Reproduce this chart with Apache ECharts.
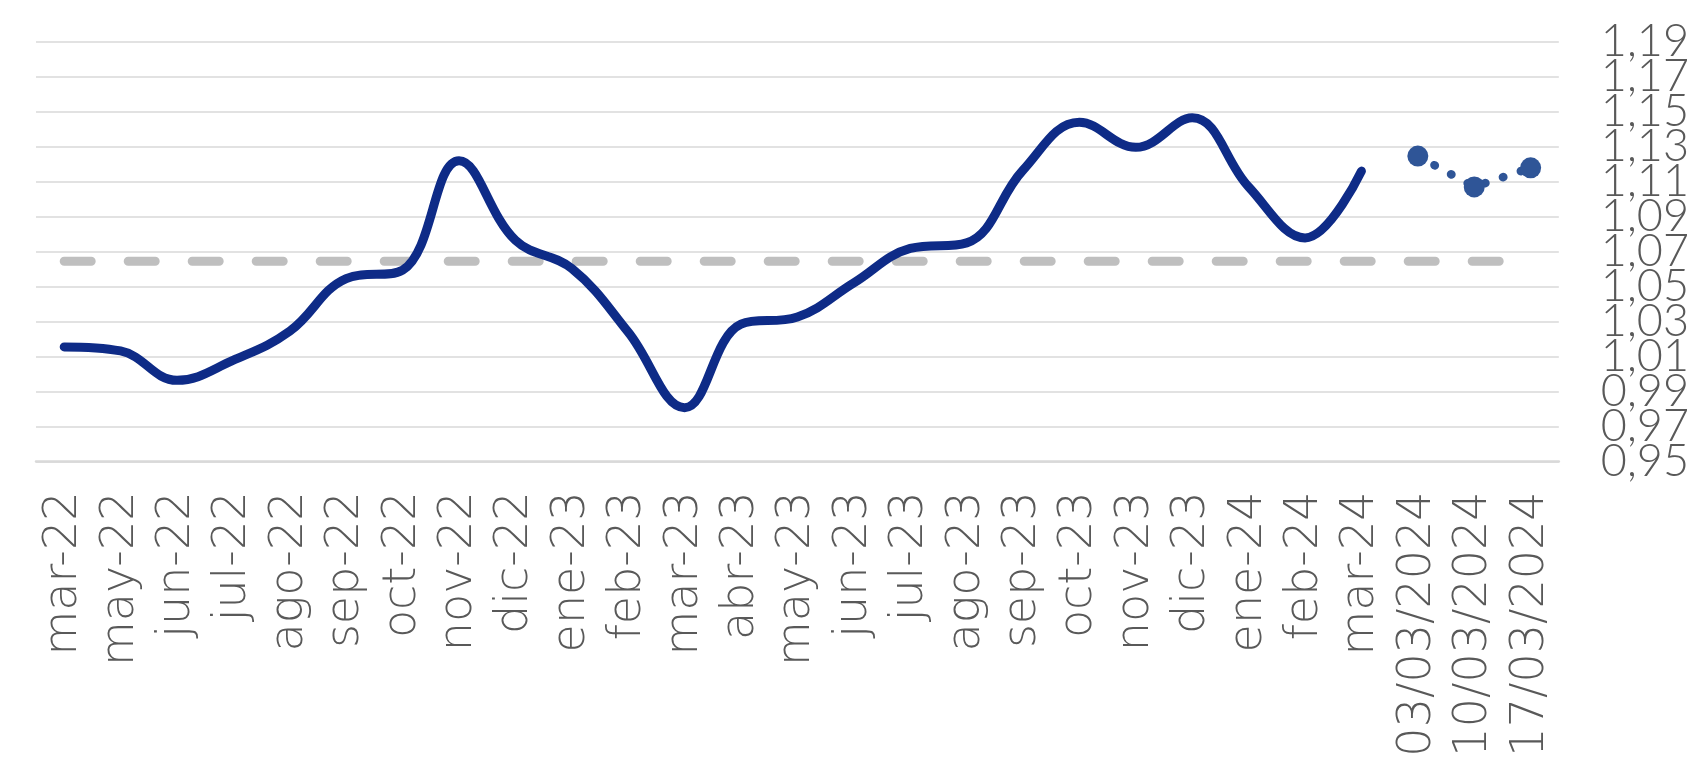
<!DOCTYPE html>
<html>
<head>
<meta charset="utf-8">
<script src="https://cdn.jsdelivr.net/npm/echarts@6/dist/echarts.min.js"></script>
<style>
  html, body { margin: 0; padding: 0; background: #ffffff; }
  #chart { width: 1692px; height: 770px; }
</style>
</head>
<body>
<div id="chart"></div>
<script>
const categories = ['mar-22','may-22','jun-22','jul-22','ago-22','sep-22','oct-22','nov-22','dic-22','ene-23','feb-23','mar-23','abr-23','may-23','jun-23','jul-23','ago-23','sep-23','oct-23','nov-23','dic-23','ene-24','feb-24','mar-24','03/03/2024','10/03/2024','17/03/2024'];
const monthlyValues = [1.0155,1.0132,0.9964,1.0079,1.0245,1.0546,1.0594,1.1219,1.0765,1.0603,1.0240,0.9808,1.0285,1.0326,1.0521,1.0718,1.0750,1.1166,1.1439,1.1296,1.1465,1.1070,1.0778,1.1160];
const weeklyValues = [1.1246,1.1070,1.1179];
const referenceValue = 1.0645;
const yTickValues = [0.95,0.97,0.99,1.01,1.03,1.05,1.07,1.09,1.11,1.13,1.15,1.17,1.19];
const yStep = 0.02;

const monthlySeries = categories.map((c, i) => i < monthlyValues.length ? monthlyValues[i] : null);
const weeklySeries = categories.map((c, i) => {
  const k = i - monthlyValues.length;
  return k >= 0 ? weeklyValues[k] : null;
});
const referenceSeries = categories.map(() => referenceValue);
const yMin = yTickValues[0];
const yMax = yTickValues[yTickValues.length - 1];
const evenTicks = yTickValues.filter((v, i) => i % 2 === 0);
const oddTicks = yTickValues.filter((v, i) => i % 2 === 1);

const labelStyle = {
  margin: 42,
  align: 'left',
  color: '#595959',
  fontFamily: 'Lato',
  fontWeight: 300,
  fontSize: 45,
  showMinLabel: true,
  showMaxLabel: true,
  formatter: v => v.toFixed(2).replace('.', ',')
};
function labelAxis(values) {
  return {
    type: 'value',
    position: 'right',
    min: yMin,
    max: yMax,
    axisLine: { show: false },
    axisTick: { show: false },
    splitLine: { show: false },
    axisLabel: Object.assign({ customValues: values }, labelStyle)
  };
}

const chart = echarts.init(document.getElementById('chart'), null, { renderer: 'canvas' });
chart.setOption({
  animation: false,
  backgroundColor: '#ffffff',
  grid: { left: 36, right: 131, top: 41.7, bottom: 308.5, containLabel: false },
  xAxis: {
    type: 'category',
    data: categories,
    boundaryGap: true,
    axisLine: { show: true, lineStyle: { color: '#D9D9D9', width: 2.5 } },
    axisTick: { show: false },
    splitLine: { show: false },
    axisLabel: {
      interval: 0,
      rotate: 90,
      margin: 30,
      color: '#595959',
      fontFamily: 'DejaVu Sans',
      fontWeight: 200,
      fontSize: 46
    }
  },
  yAxis: [
    {
      type: 'value',
      position: 'right',
      min: yMin,
      max: yMax,
      interval: yStep,
      axisLine: { show: false },
      axisTick: { show: false },
      axisLabel: { show: false },
      splitLine: { show: true, lineStyle: { color: '#D9D9D9', width: 1.5 } }
    },
    labelAxis(evenTicks),
    labelAxis(oddTicks)
  ],
  series: [
    {
      name: 'Referencia',
      type: 'line',
      data: referenceSeries,
      symbol: 'none',
      lineStyle: { color: '#BFBFBF', width: 9, type: [27, 37], cap: 'round' },
      z: 1
    },
    {
      name: 'Mensual',
      type: 'line',
      data: monthlySeries,
      smooth: 0.4,
      symbol: 'none',
      connectNulls: false,
      lineStyle: { color: '#0E2B87', width: 9, cap: 'round', join: 'round' },
      z: 3
    },
    {
      name: 'Semanal',
      type: 'line',
      data: weeklySeries,
      symbol: 'circle',
      symbolSize: 21,
      showAllSymbol: true,
      itemStyle: { color: '#2F5597' },
      lineStyle: { color: '#2F5597', width: 8.5, type: [0.5, 18.4], cap: 'round' },
      z: 4
    }
  ]
});
</script>
</body>
</html>
